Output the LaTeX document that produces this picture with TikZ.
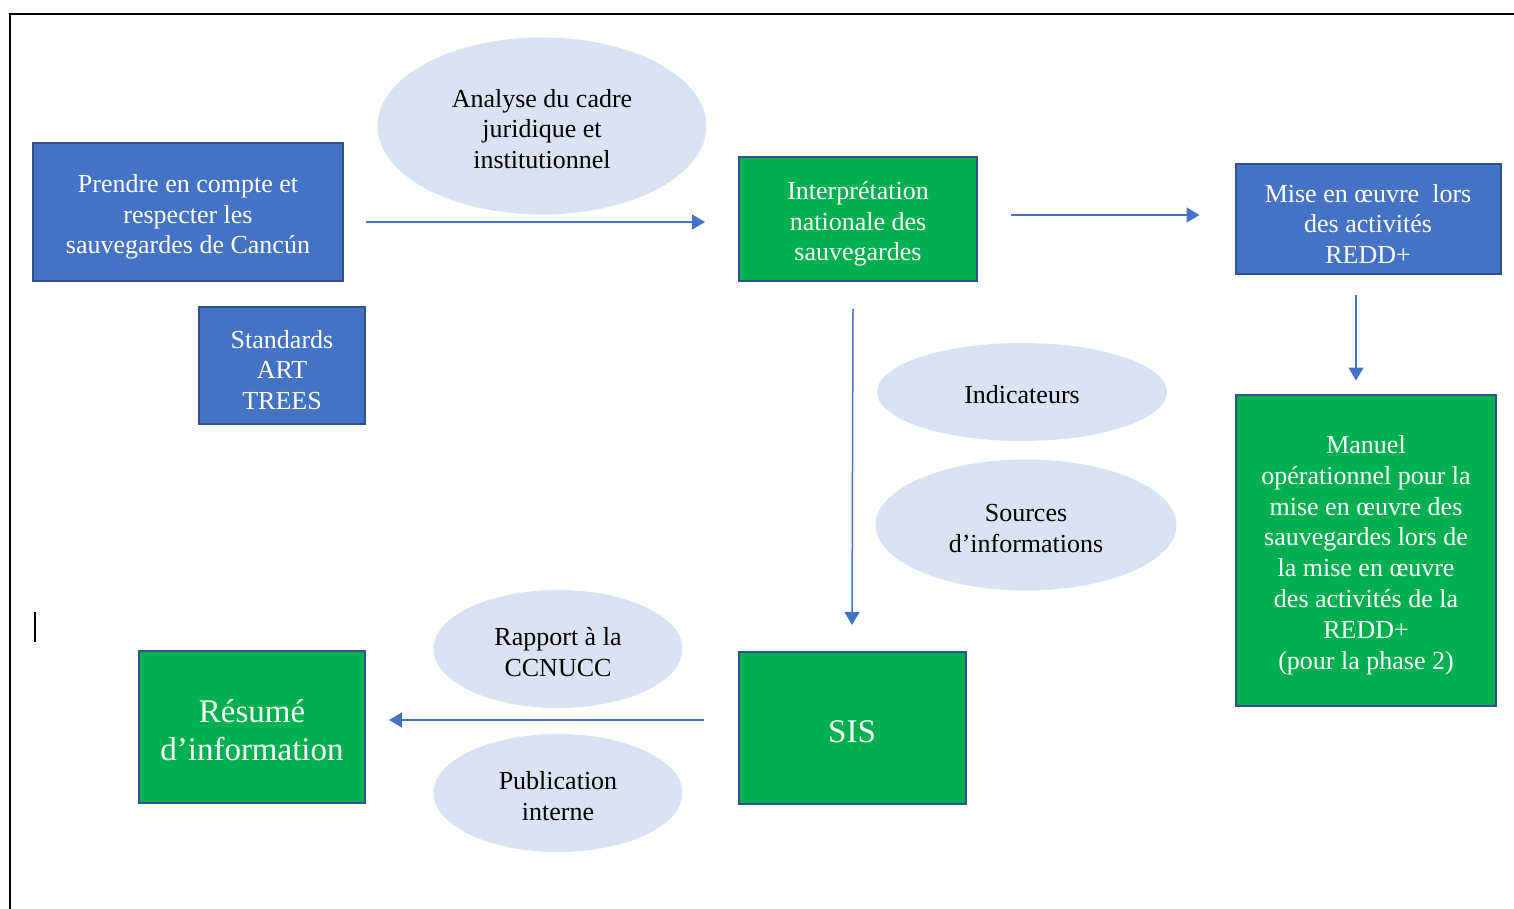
\documentclass[tikz,border=0pt]{standalone}
\usepackage{fontspec}
\setmainfont{Liberation Serif}
\usepackage{xcolor}
\usepackage{tikz}
\usetikzlibrary{shapes.geometric, arrows.meta, positioning, calc}
\definecolor{boxblue}{RGB}{68, 114, 196}
\definecolor{edgeblue}{RGB}{47, 82, 143}
\definecolor{boxgreen}{RGB}{0, 176, 80}
\definecolor{paleblue}{RGB}{218, 227, 243}
% first-line struts, so the text sits a little lower as in the original
\newcommand{\boxgap}{\rule{0pt}{14pt}}
\newcommand{\biggap}{\rule{0pt}{14.5pt}}
\newcommand{\bubgap}{\rule{0pt}{12pt}}

\begin{document}
\begin{tikzpicture}[x=0.5pt, y=-0.5pt,
  bluebox/.style={draw=edgeblue, line width=1pt, fill=boxblue, text=white,
                  inner sep=0pt, align=center, font=\fontsize{13}{15.4}\selectfont},
  greenbox/.style={bluebox, fill=boxgreen},
  bigtext/.style={font=\fontsize{16.5}{19}\selectfont},
  bubble/.style={ellipse, fill=paleblue, inner sep=0pt, align=center,
                 font=\fontsize{13}{15.4}\selectfont},
  link/.style={-{Triangle[length=6.5pt, width=7.5pt]}, line width=0.75pt, color=boxblue},
  frame/.style={line width=1pt, black}
]
  \useasboundingbox (0,0) rectangle (1514,909);
  \draw[frame] (1514,14) -- (10,14) -- (10,909);
  \draw[line width=0.8pt] (35,612) -- (35,642);

  % top row
  \node[bluebox, minimum width=155pt, minimum height=68.5pt] (cancun) at (188,212)
    {\boxgap Prendre en compte et\\respecter les\\sauvegardes de Cancún};
  \node[bluebox, minimum width=83pt, minimum height=58.5pt] (trees) at (282,365)
    {\boxgap Standards\\ART\\TREES};
  \node[bubble, minimum width=164.5pt, minimum height=88.5pt] (cadre) at (542,126)
    {\bubgap Analyse du cadre\\juridique et\\institutionnel};
  \node[greenbox, minimum width=119pt, minimum height=62pt] (interp) at (858,219)
    {\boxgap Interprétation\\nationale des\\sauvegardes};
  \node[bluebox, minimum width=132.5pt, minimum height=55pt] (miseoeuvre) at (1368,219)
    {\boxgap Mise en œuvre\ \ lors\\des activités\\REDD+};
  \node[greenbox, minimum width=130pt, minimum height=155.5pt] (manuel) at (1366,550)
    {\boxgap Manuel\\opérationnel pour la\\mise en œuvre des\\sauvegardes lors de\\la mise en œuvre\\des activités de la\\REDD+\\(pour la phase 2)};

  % middle
  \node[bubble, minimum width=145pt, minimum height=49pt] (indic) at (1022,392)
    {\bubgap Indicateurs};
  \node[bubble, minimum width=150.5pt, minimum height=65.5pt] (sources) at (1026,525)
    {\bubgap Sources\\d’informations};

  % bottom row
  \node[greenbox, bigtext, minimum width=113.5pt, minimum height=76pt] (sis) at (852,728)
    {\biggap SIS};
  \node[greenbox, bigtext, minimum width=113pt, minimum height=76pt] (resume) at (252,727)
    {\biggap Résumé\\d’information};
  \node[bubble, minimum width=124.5pt, minimum height=59pt] (rapport) at (558,649)
    {\bubgap Rapport à la\\CCNUCC};
  \node[bubble, minimum width=124.5pt, minimum height=59pt] (publi) at (558,793)
    {\bubgap Publication\\interne};

  \draw[link] ([shift={(11pt,-5pt)}]cancun.east) -- ([shift={(-16.5pt,-1.5pt)}]interp.west);
  \draw[link] ([shift={(16.5pt,2pt)}]interp.east) -- ([shift={(-17.5pt,2pt)}]miseoeuvre.west);
  \draw[link] ([shift={(-6pt,-10pt)}]miseoeuvre.south) -- ([shift={(-5pt,6.5pt)}]manuel.north);
  \draw[link] ([shift={(-2.5pt,-13.5pt)}]interp.south) -- ([shift={(0pt,13pt)}]sis.north);
  \draw[link] ([shift={(-17pt,4pt)}]sis.west) -- ([shift={(11.5pt,3.5pt)}]resume.east);
\end{tikzpicture}
\end{document}
